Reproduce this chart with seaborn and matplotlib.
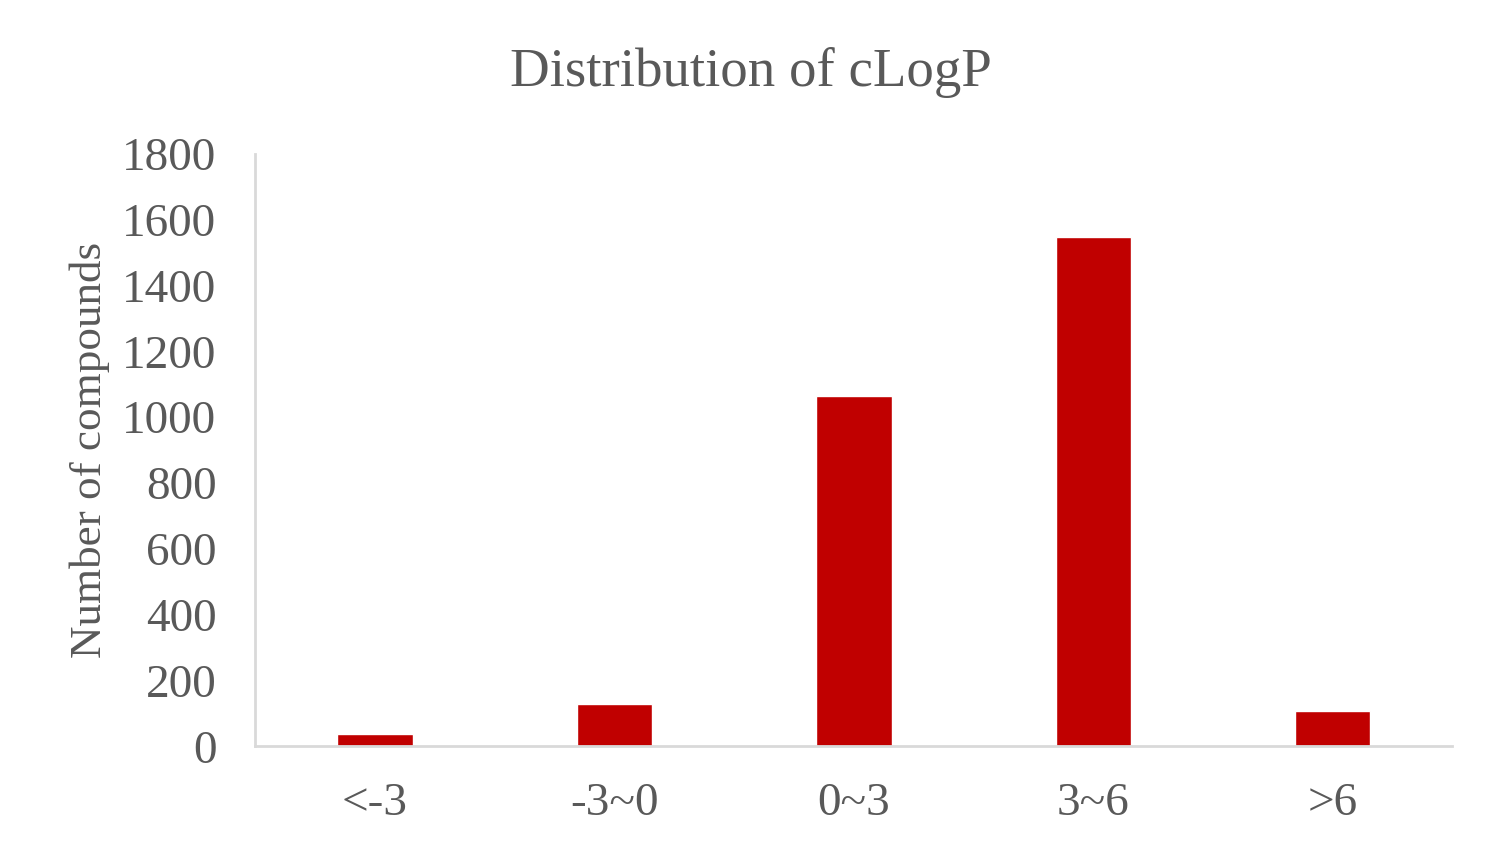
import matplotlib
matplotlib.use("Agg")
import matplotlib.pyplot as plt
import seaborn as sns
import pandas as pd

# values
categories = ['<-3', '-3~0', '0~3', '3~6', '>6']
counts = [39, 129, 1066, 1549, 108]
y_ticks = [0, 200, 400, 600, 800, 1000, 1200, 1400, 1600, 1800]

df = pd.DataFrame({'range': categories, 'count': counts})

sns.set_style('white')
plt.rcParams['font.family'] = ['Liberation Serif', 'DejaVu Serif']
text_color = '#595959'

fig = plt.figure(figsize=(15.02, 8.55), dpi=100)
ax = fig.add_axes([0.170, 0.127, 0.797, 0.693])

sns.barplot(data=df, x='range', y='count', color='#c00000', width=0.315,
            saturation=1, ax=ax)

ax.set_ylim(0, 1800)
ax.set_xlim(-0.5, 4.5)
ax.set_yticks(y_ticks)
ax.tick_params(axis='both', length=0, labelsize=34, colors=text_color)
ax.tick_params(axis='y', pad=28)
ax.tick_params(axis='x', pad=26)

ax.set_xlabel('')
ax.set_ylabel('Number of compounds', fontsize=32.5, color=text_color, labelpad=9)
fig.suptitle('Distribution of cLogP', fontsize=39.5, color=text_color, y=0.945)

for side in ['top', 'right']:
    ax.spines[side].set_visible(False)
for side in ['left', 'bottom']:
    ax.spines[side].set_color('#d9d9d9')
    ax.spines[side].set_linewidth(2)

fig.savefig('out.png', dpi=100)
